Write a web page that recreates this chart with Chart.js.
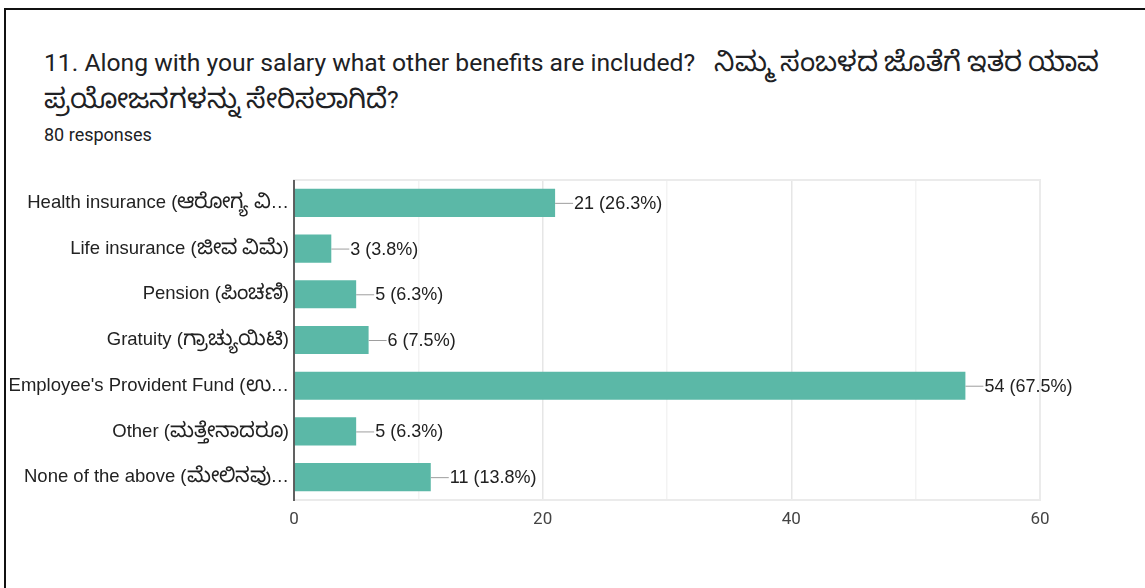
<!DOCTYPE html>
<html>
<head>
<meta charset="utf-8">
<script src="https://cdn.jsdelivr.net/npm/chart.js@4.4.1/dist/chart.umd.min.js"></script>
<style>
  html, body { margin: 0; padding: 0; background: #fff; }
  body { width: 1145px; height: 588px; position: relative; overflow: hidden; font-family: Roboto, KnFace, "Noto Sans", sans-serif; }
  .frame { position: absolute; left: 4px; top: 8px; width: 1200px; height: 700px; border-left: 2px solid #111; border-top: 2px solid #111; }
  .title { position: absolute; left: 44px; top: 44px; font-size: 24.7px; line-height: 37px; color: #202124; white-space: nowrap; }
  .sub { position: absolute; left: 44px; top: 124px; font-size: 18px; color: #202124; }
  #chart { position: absolute; left: 0; top: 0; }
</style>
</head>
<body>
<div class="frame"></div>
<div class="title">11. Along with your salary what other benefits are included?&nbsp;&nbsp;&nbsp;ನಿಮ್ಮ ಸಂಬಳದ ಜೊತೆಗೆ ಇತರ ಯಾವ<br>ಪ್ರಯೋಜನಗಳನ್ನು ಸೇರಿಸಲಾಗಿದೆ?</div>
<div class="sub">80 responses</div>
<canvas id="chart" width="1145" height="588"></canvas>
<script>
// data
const categories = [
  'Health insurance (ಆರೋಗ್ಯ ವಿ…',
  'Life insurance (ಜೀವ ವಿಮೆ)',
  'Pension (ಪಿಂಚಣಿ)',
  'Gratuity (ಗ್ರಾಚ್ಯುಯಿಟಿ)',
  "Employee's Provident Fund (ಉ…",
  'Other (ಮತ್ತೇನಾದರೂ)',
  'None of the above (ಮೇಲಿನವು…'
];
const counts = [21, 3, 5, 6, 54, 5, 11];
const totalResponses = 80;
const xTicks = [0, 20, 40, 60];

const barColor = '#5bb8a7';
const labelFont = '"Liberation Sans", Arial, KnFace, sans-serif';

// use the installed Noto Kannada face for Kannada script only, a bit larger
const knCandidates = ['Noto Sans Kannada Regular', 'NotoSansKannada-Regular', 'Noto Sans Kannada'];

async function setupKannada() {
  for (const name of knCandidates) {
    try {
      const face = new FontFace('KnFace', `local("${name}")`, { unicodeRange: 'U+0C80-0CFF', sizeAdjust: '112%' });
      await face.load();
      document.fonts.add(face);
      return;
    } catch (e) { /* try next */ }
  }
}

// leader line + "n (p%)" label after each bar
const valueLabels = {
  id: 'valueLabels',
  afterDatasetsDraw(chart) {
    const ctx = chart.ctx;
    const meta = chart.getDatasetMeta(0);
    ctx.save();
    ctx.font = '18px ' + labelFont;
    ctx.textBaseline = 'middle';
    ctx.textAlign = 'left';
    meta.data.forEach((bar, i) => {
      const x = bar.x, y = bar.y;
      ctx.strokeStyle = '#9e9e9e';
      ctx.lineWidth = 1;
      ctx.beginPath();
      ctx.moveTo(x, y + 0.5);
      ctx.lineTo(x + 18, y + 0.5);
      ctx.stroke();
      ctx.fillStyle = '#212121';
      const pct = (counts[i] / totalResponses * 100).toFixed(1);
      ctx.fillText(`${counts[i]} (${pct}%)`, x + 19, y + 1);
    });
    ctx.restore();
  }
};

// light frame round the plot, dark left axis
const plotFrame = {
  id: 'plotFrame',
  beforeDatasetsDraw(chart) {
    const { ctx, chartArea: a } = chart;
    ctx.save();
    ctx.strokeStyle = '#ebebeb';
    ctx.lineWidth = 2;
    ctx.strokeRect(a.left, a.top, a.right - a.left, a.bottom - a.top);
    ctx.restore();
  },
  afterDatasetsDraw(chart) {
    const { ctx, chartArea: a } = chart;
    ctx.save();
    ctx.strokeStyle = '#333';
    ctx.lineWidth = 1.5;
    ctx.beginPath();
    ctx.moveTo(a.left, a.top);
    ctx.lineTo(a.left, a.bottom + 1);
    ctx.stroke();
    ctx.restore();
  }
};

function drawChart() {
  new Chart(document.getElementById('chart'), {
    type: 'bar',
    data: {
      labels: categories,
      datasets: [{ data: counts, backgroundColor: barColor, borderWidth: 0, barPercentage: 0.615, categoryPercentage: 1 }]
    },
    options: {
      indexAxis: 'y',
      responsive: false,
      animation: false,
      layout: { padding: { top: 180, right: 105, left: 0, bottom: 0 } },
      plugins: { legend: { display: false }, tooltip: { enabled: false } },
      scales: {
        x: {
          min: 0, max: 60,
          ticks: {
            stepSize: 10,
            padding: 10,
            color: '#444',
            font: { size: 17, family: 'Roboto' },
            callback: v => xTicks.includes(v) ? v : ''
          },
          grid: {
            drawTicks: false,
            color: ctx => (ctx.tick && ctx.tick.value % 20 === 0) ? '#e6e6e6' : '#f3f3f3',
            lineWidth: 1.5
          },
          border: { display: false },
          afterFit: s => { s.height = 88; }
        },
        y: {
          ticks: { padding: 5, color: '#222', font: { size: 18.5, family: labelFont } },
          grid: { display: false, drawTicks: false },
          border: { display: false },
          afterFit: s => { s.width = 294; }
        }
      }
    },
    plugins: [plotFrame, valueLabels]
  });
}

setupKannada().catch(() => {}).then(drawChart);
</script>
</body>
</html>
